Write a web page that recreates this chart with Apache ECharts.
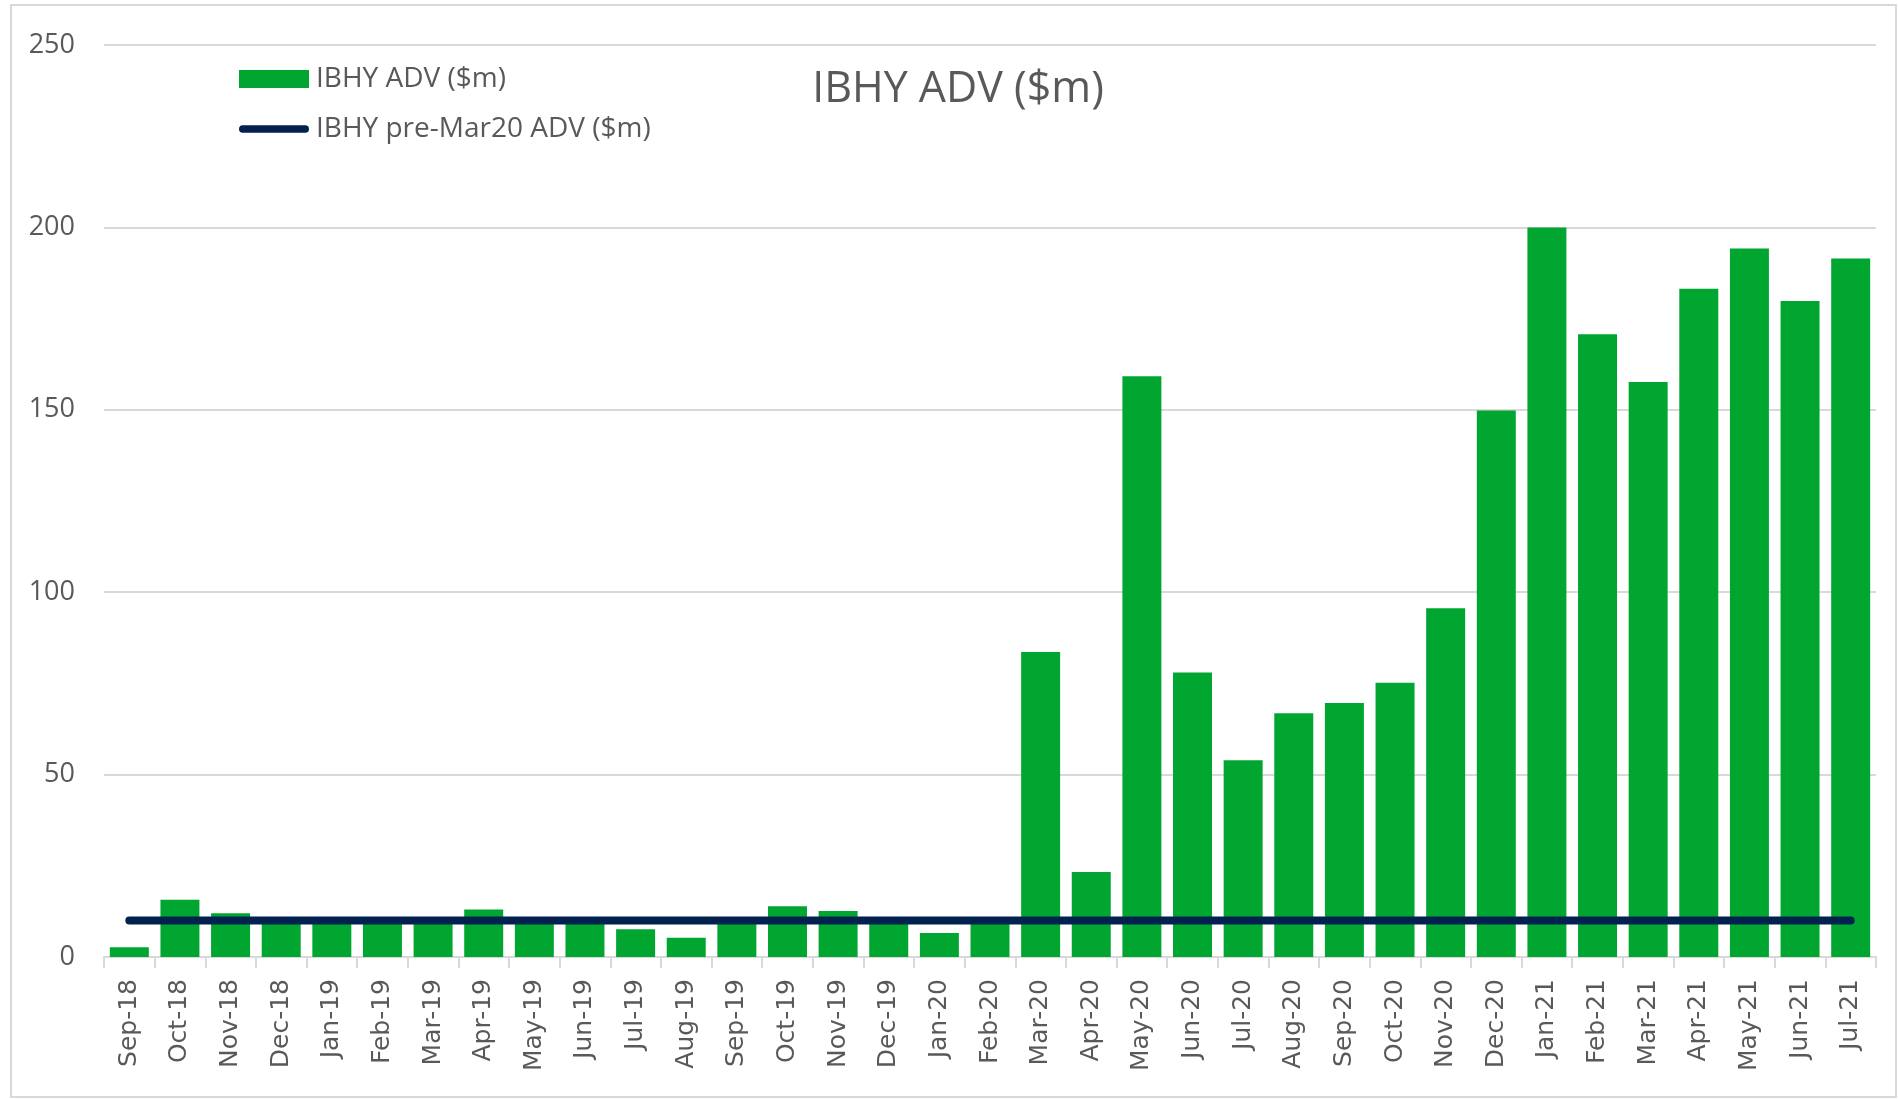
<!DOCTYPE html>
<html>
<head>
<meta charset="utf-8">
<script src="https://cdn.jsdelivr.net/npm/echarts@6/dist/echarts.min.js"></script>
<style>
html,body{margin:0;padding:0;background:#fff;}
#chart{width:1898px;height:1099px;}
</style>
</head>
<body>
<div id="chart"></div>
<script>
const categories = ['Sep-18','Oct-18','Nov-18','Dec-18','Jan-19','Feb-19','Mar-19','Apr-19','May-19','Jun-19','Jul-19','Aug-19','Sep-19','Oct-19','Nov-19','Dec-19','Jan-20','Feb-20','Mar-20','Apr-20','May-20','Jun-20','Jul-20','Aug-20','Sep-20','Oct-20','Nov-20','Dec-20','Jan-21','Feb-21','Mar-21','Apr-21','May-21','Jun-21','Jul-21'];
const advValues = [2.7,15.7,12.0,10.2,9.8,10.1,10.3,13.0,9.9,10.2,7.6,5.3,10.1,13.9,12.6,10.3,6.6,10.2,83.6,23.3,159.2,78.0,53.9,66.8,69.6,75.2,95.6,149.8,200.0,170.7,157.6,183.2,194.2,179.8,191.5];
const preMarValues = [10,10,10,10,10,10,10,10,10,10,10,10,10,10,10,10,10,10,10,10,10,10,10,10,10,10,10,10,10,10,10,10,10,10,10];
const yTicks = [0,50,100,150,200,250];
const seriesNames = ['IBHY ADV ($m)','IBHY pre-Mar20 ADV ($m)'];
const titleText = 'IBHY ADV ($m)';

const chart = echarts.init(document.getElementById('chart'), null, {renderer:'canvas'});
const grey = '#595959';
chart.setOption({
  backgroundColor:'#ffffff',
  animation:false,
  title:{
    text:titleText, left:958, top:68, padding:0, textAlign:'center',
    textStyle:{fontFamily:'Open Sans', fontSize:43, fontWeight:'normal', color:grey}
  },
  legend:{
    orient:'vertical', left:234, top:60, itemWidth:70, itemHeight:18, itemGap:22,
    textStyle:{fontFamily:'Open Sans', fontSize:28, color:grey, lineHeight:28, padding:[0,0,0,2]},
    data:[
      {name:seriesNames[0], icon:'rect'},
      {name:seriesNames[1], icon:'path://M4,0H70A4,4,0,0,1,70,8H4A4,4,0,0,1,4,0Z'}
    ]
  },
  graphic:[{
    type:'rect', shape:{x:11, y:5, width:1885, height:1092},
    style:{fill:'none', stroke:'#d9d9d9', lineWidth:2}, silent:true, z:-1
  }],
  grid:{left:104, right:22, top:45, bottom:142, containLabel:false},
  xAxis:{
    type:'category', data:categories, boundaryGap:true,
    axisLine:{lineStyle:{color:'#d9d9d9', width:2}},
    axisTick:{show:true, length:11, lineStyle:{color:'#d9d9d9', width:2}},
    axisLabel:{rotate:90, margin:22, fontFamily:'DejaVu Sans', fontSize:25, color:grey, interval:0}
  },
  yAxis:{
    type:'value', min:yTicks[0], max:yTicks[yTicks.length-1], interval:50,
    axisLine:{show:false}, axisTick:{show:false},
    axisLabel:{margin:29, fontFamily:'Open Sans', fontSize:27, color:grey},
    splitLine:{lineStyle:{color:'#d9d9d9', width:2}}
  },
  series:[
    {name:seriesNames[0], type:'bar', data:advValues, barCategoryGap:'23%',
     color:'#00a630', itemStyle:{color:'#00a630'}},
    {name:seriesNames[1], type:'line', data:preMarValues, symbol:'none', z:5,
     color:'#02214f', lineStyle:{color:'#02214f', width:8, cap:'round'}}
  ]
});
</script>
</body>
</html>
